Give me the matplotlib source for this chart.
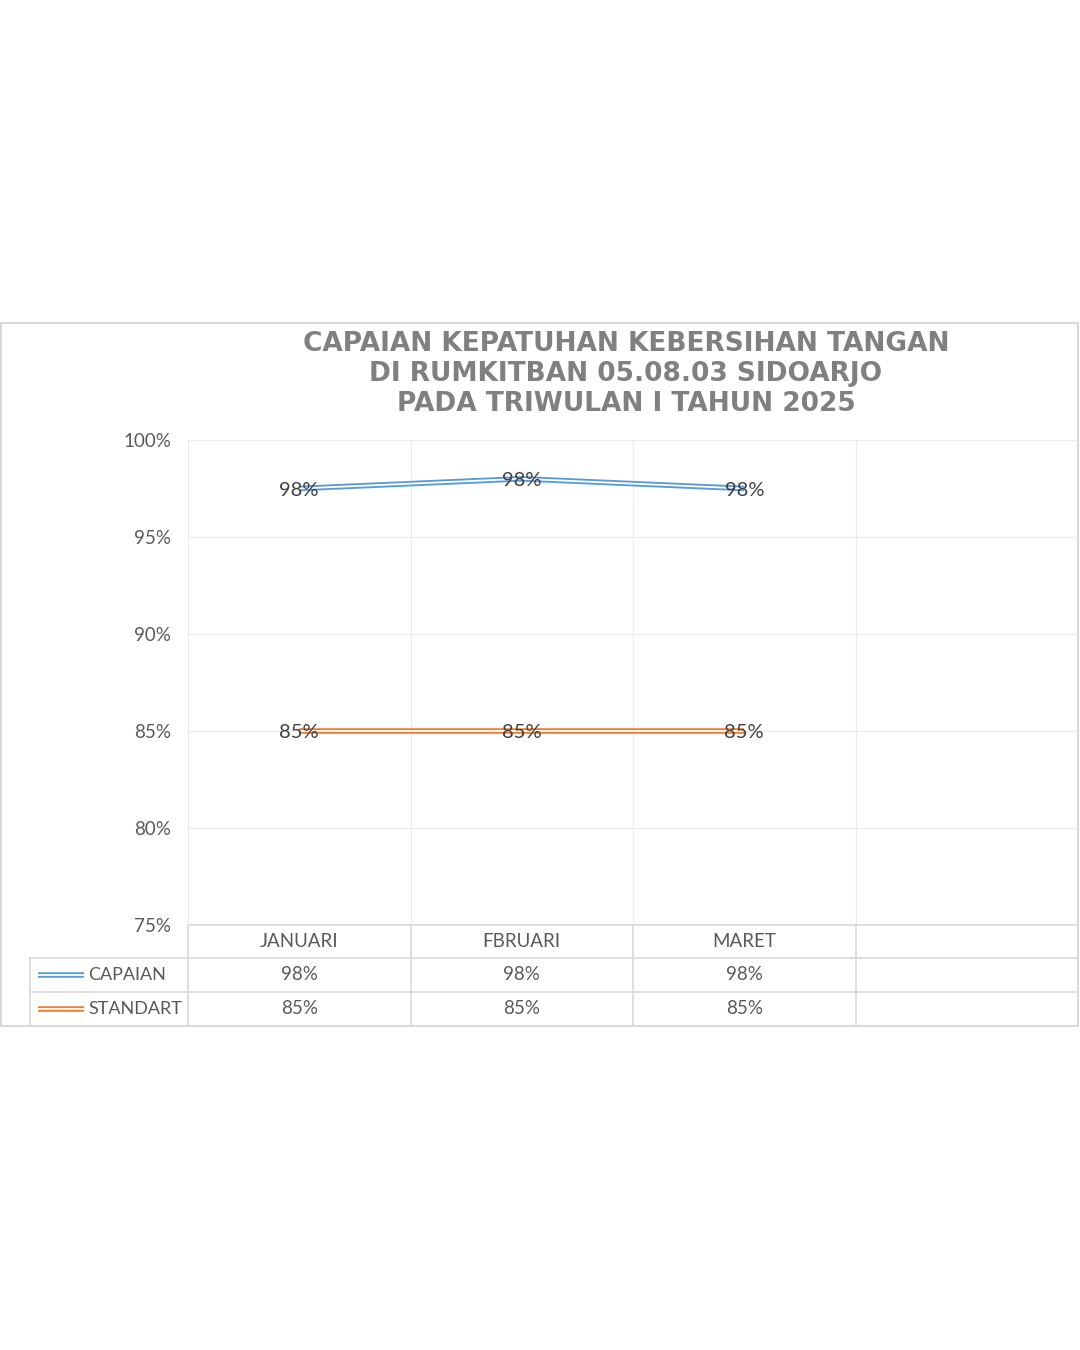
import matplotlib.pyplot as plt
from matplotlib.patches import Rectangle
from matplotlib.transforms import blended_transform_factory

months = ["JANUARI", "FBRUARI", "MARET", ""]
capaian = [97.5, 98.0, 97.5]
standart = [85.0, 85.0, 85.0]
series_names = ["CAPAIAN", "STANDART"]
yticks = [75, 80, 85, 90, 95, 100]
title_lines = ["CAPAIAN KEPATUHAN KEBERSIHAN TANGAN",
               "DI RUMKITBAN 05.08.03 SIDOARJO",
               "PADA TRIWULAN I TAHUN 2025"]

blue = "#5b9bd5"
orange = "#ed7d31"
grid_c = "#ececec"
border_c = "#d9d9d9"
txt_c = "#595959"
font = "Lato"

W, H = 1080, 1350
fig = plt.figure(figsize=(W / 100, H / 100), dpi=100)

# outer chart frame
fig.patches.append(Rectangle((1 / W, 1 - 1026 / H), 1077 / W, 703 / H,
                             transform=fig.transFigure, fill=False,
                             edgecolor=border_c, linewidth=1.5))

# title
for i, line in enumerate(title_lines):
    fig.text(626 / W, 1 - (344 + 30 * i) / H, line, ha="center", va="center",
             fontsize=19, fontweight="bold", color="#808080",
             family="DejaVu Sans")

ax = fig.add_axes([188 / W, 1 - 925 / H, 890 / W, 485 / H])
ax.set_xlim(-0.5, 3.5)
ax.set_ylim(75, 100)
ax.set_yticks(yticks)
ax.set_yticklabels([f"{v}%" for v in yticks], fontsize=13.5, color=txt_c,
                   family=font)
ax.tick_params(axis="y", length=0, pad=12)
ax.set_xticks([])
for s in ["top", "right", "bottom"]:
    ax.spines[s].set_visible(False)
ax.spines["left"].set_color(grid_c)
for y in yticks[1:]:
    ax.axhline(y, color=grid_c, linewidth=0.8, zorder=0)
for x in [0.5, 1.5, 2.5]:
    ax.axvline(x, color=grid_c, linewidth=0.8, zorder=0)

x = list(range(len(capaian)))


def double_line(xs, ys, color, **kw):
    ax.plot(xs, ys, color=color, linewidth=4.0, solid_capstyle="butt", zorder=3, **kw)
    ax.plot(xs, ys, color="white", linewidth=1.3, solid_capstyle="butt", zorder=4, **kw)


double_line(x, capaian, blue)
double_line(x, standart, orange)
for xi, v in zip(x, capaian):
    ax.text(xi, v - 0.1, f"{v:.0f}%", ha="center", va="center", fontsize=14.5,
            color="#404040", family=font, zorder=5)
for xi, v in zip(x, standart):
    ax.text(xi, v - 0.1, f"{v:.0f}%", ha="center", va="center", fontsize=14.5,
            color="#404040", family=font, zorder=5)

# data table below the plot
tr = blended_transform_factory(ax.transData, ax.transAxes)
ph = 485.0
r0, r1, r2, r3 = 0, -33 / ph, -67 / ph, -101 / ph
x_left = -0.5 - 158 / 222.5
line_kw = dict(transform=tr, clip_on=False, color=border_c, linewidth=1.2)
ax.plot([-0.5, 3.5], [r0, r0], **line_kw)
for r in [r1, r2]:
    ax.plot([x_left, 3.5], [r, r], **line_kw)
ax.plot([x_left, x_left], [r1, r3], **line_kw)
for xv in [-0.5, 0.5, 1.5, 2.5]:
    ax.plot([xv, xv], [r0, r3], **line_kw)

for i, m in enumerate(months):
    ax.text(i, (r0 + r1) / 2, m, transform=tr, ha="center", va="center",
            fontsize=13.5, color=txt_c, family=font)
rows = [(capaian, blue, (r1 + r2) / 2), (standart, orange, (r2 + r3) / 2)]
for (vals, col, yc), name in zip(rows, series_names):
    for i, v in enumerate(vals):
        ax.text(i, yc, f"{v:.0f}%", transform=tr, ha="center", va="center",
                fontsize=13.5, color=txt_c, family=font)
    xs = [x_left + 8 / 222.5, x_left + 54 / 222.5]
    ax.plot(xs, [yc, yc], transform=tr, clip_on=False, color=col,
            linewidth=4.0, solid_capstyle="butt")
    ax.plot(xs, [yc, yc], transform=tr, clip_on=False, color="white",
            linewidth=1.3, solid_capstyle="butt")
    ax.text(x_left + 58 / 222.5, yc, name, transform=tr, ha="left",
            va="center", fontsize=13, color=txt_c, family=font)

fig.savefig("out.png", dpi=100)
